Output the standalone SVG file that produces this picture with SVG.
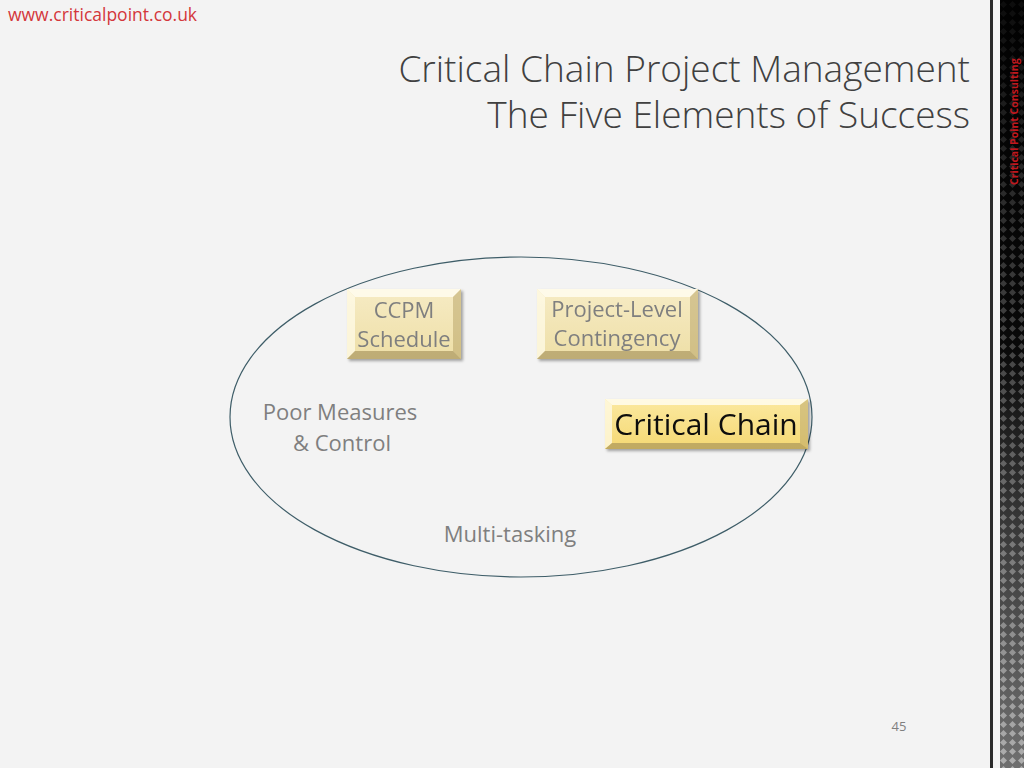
<svg xmlns="http://www.w3.org/2000/svg" width="1024" height="768" viewBox="0 0 1024 768">
<defs>
<style>
.t{font-family:"Open Sans","Liberation Sans",sans-serif;}
.title{font-size:37px;fill:#404040;font-weight:300;text-anchor:end;}
.lbl{font-size:22px;fill:#7f7f7f;text-anchor:middle;}
.big{font-size:30px;fill:#0d0d0d;text-anchor:middle;}
.bevL{fill:#fffbe8;opacity:0.75;}
.bevT{fill:#fffdf0;opacity:0.85;}
.bevR{fill:#b9a56a;opacity:0.55;}
.bevB{fill:#9e8b55;opacity:0.6;}
</style>
<linearGradient id="gBox" x1="0" y1="0" x2="0" y2="1">
<stop offset="0" stop-color="#f6ebc4"/>
<stop offset="1" stop-color="#eedfa7"/>
</linearGradient>
<linearGradient id="gCC" x1="0" y1="0" x2="0" y2="1">
<stop offset="0" stop-color="#fbe9a0"/>
<stop offset="1" stop-color="#f5d873"/>
</linearGradient>
<filter id="sh" x="-10%" y="-10%" width="125%" height="130%">
<feGaussianBlur in="SourceAlpha" stdDeviation="1.5"/>
<feOffset dx="1.5" dy="2" result="o"/>
<feComponentTransfer><feFuncA type="linear" slope="0.35"/></feComponentTransfer>
<feMerge><feMergeNode/><feMergeNode in="SourceGraphic"/></feMerge>
</filter>
<pattern id="carbon" width="9" height="9" patternUnits="userSpaceOnUse">
<rect width="9" height="9" fill="#101010"/>
<path d="M1 4.5 L4.5 1 L8 4.5 L4.5 8 Z" fill="#7a7a7a"/>
</pattern>
<linearGradient id="fade" x1="0" y1="0" x2="0" y2="1">
<stop offset="0" stop-color="#000" stop-opacity="0.9"/>
<stop offset="0.45" stop-color="#000" stop-opacity="0.45"/>
<stop offset="1" stop-color="#fff" stop-opacity="0.4"/>
</linearGradient>
</defs>
<rect width="1024" height="768" fill="#f3f3f3"/>
<g id="sidebar">
<rect x="990" y="0" width="3" height="768" fill="#2a2a2a"/>
<rect x="1000" y="0" width="24" height="768" fill="url(#carbon)"/>
<rect x="1000" y="0" width="24" height="768" fill="url(#fade)"/>
<text class="t" transform="translate(1018,185) rotate(-90)" font-size="10.5" font-weight="bold" fill="#c0181e">Critical Point Consulting</text>
</g>
<text class="t" x="8" y="21" font-size="17.5" fill="#d4373b">www.criticalpoint.co.uk</text>
<text class="t title" x="970" y="82">Critical Chain Project Management</text>
<text class="t title" x="970" y="128">The Five Elements of Success</text>
<g id="connectors">
<ellipse cx="521" cy="417" rx="291" ry="160" fill="none" stroke="#3e5d68" stroke-width="1.2"/>
</g>
<g id="ccpm" filter="url(#sh)">
<rect x="347" y="289" width="114" height="70" fill="url(#gBox)"/>
<polygon class="bevT" points="347,289 461,289 453,297 355,297"/>
<polygon class="bevL" points="347,289 355,297 355,351 347,359"/>
<polygon class="bevR" points="461,289 461,359 453,351 453,297"/>
<polygon class="bevB" points="347,359 461,359 453,351 355,351"/>
<text class="t lbl" x="404" y="318">CCPM</text>
<text class="t lbl" x="404" y="347">Schedule</text>
</g>
<g id="contingency" filter="url(#sh)">
<rect x="537" y="289" width="161" height="70" fill="url(#gBox)"/>
<polygon class="bevT" points="537,289 698,289 690,297 545,297"/>
<polygon class="bevL" points="537,289 545,297 545,351 537,359"/>
<polygon class="bevR" points="698,289 698,359 690,351 690,297"/>
<polygon class="bevB" points="537,359 698,359 690,351 545,351"/>
<text class="t lbl" x="617" y="317">Project-Level</text>
<text class="t lbl" x="617" y="346">Contingency</text>
</g>
<g id="critical-chain" filter="url(#sh)">
<rect x="605" y="399" width="203" height="50" fill="url(#gCC)"/>
<polygon class="bevT" points="605,399 808,399 800,405 612,405"/>
<polygon class="bevL" points="605,399 612,405 612,443 605,449"/>
<polygon class="bevR" points="808,399 808,449 800,443 800,405"/>
<polygon class="bevB" points="605,449 808,449 800,443 612,443"/>
<text class="t big" x="706" y="435">Critical Chain</text>
</g>
<g id="poor-measures">
<text class="t lbl" x="340" y="420">Poor Measures</text>
<text class="t lbl" x="342" y="451">&amp; Control</text>
</g>
<g id="multitasking">
<text class="t lbl" x="510" y="542">Multi-tasking</text>
</g>
<text class="t" x="899" y="731" font-size="13" fill="#7f7f7f" text-anchor="middle">45</text>
</svg>
